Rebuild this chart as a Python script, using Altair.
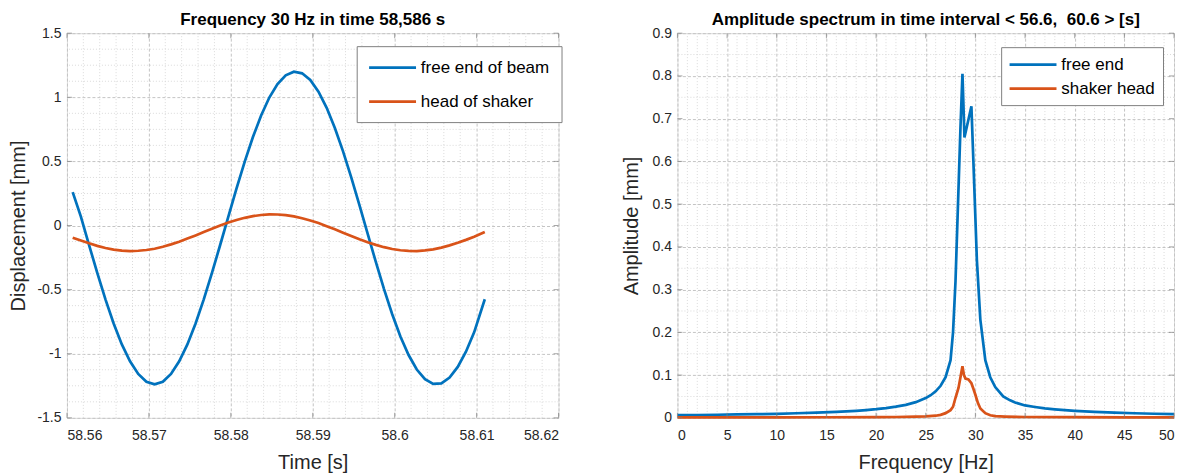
import altair as alt
import pandas as pd

# ---------------- data ----------------
time_s = [58.5607, 58.5617, 58.5627, 58.5637, 58.5647, 58.5657, 58.5667, 58.5677, 58.5687, 58.5697,
          58.5707, 58.5717, 58.5727, 58.5737, 58.5747, 58.5757, 58.5767, 58.5777, 58.5787, 58.5797,
          58.5807, 58.5817, 58.5827, 58.5837, 58.5847, 58.5857, 58.5867, 58.5877, 58.5887, 58.5897,
          58.5907, 58.5917, 58.5927, 58.5937, 58.5947, 58.5957, 58.5967, 58.5977, 58.5987, 58.5997,
          58.6007, 58.6017, 58.6027, 58.6037, 58.6047, 58.6057, 58.6067, 58.6077, 58.6087, 58.6097,
          58.611]
free_end_of_beam = [0.26, 0.070, -0.152, -0.370, -0.576, -0.764, -0.927, -1.059, -1.158, -1.218,
                    -1.238, -1.218, -1.158, -1.059, -0.927, -0.764, -0.576, -0.370, -0.152, 0.070,
                    0.289, 0.498, 0.690, 0.858, 0.998, 1.103, 1.171, 1.199, 1.187, 1.135,
                    1.044, 0.918, 0.761, 0.578, 0.375, 0.159, -0.063, -0.284, -0.496, -0.692,
                    -0.865, -1.010, -1.123, -1.198, -1.235, -1.231, -1.186, -1.103, -0.984, -0.833,
                    -0.575]
head_of_shaker = [-0.095, -0.117, -0.139, -0.159, -0.175, -0.188, -0.196, -0.199, -0.197, -0.191,
                  -0.181, -0.166, -0.147, -0.126, -0.102, -0.077, -0.051, -0.025, 0.000, 0.023,
                  0.043, 0.060, 0.073, 0.082, 0.087, 0.086, 0.081, 0.071, 0.057, 0.039,
                  0.019, -0.005, -0.030, -0.056, -0.082, -0.107, -0.130, -0.151, -0.169, -0.183,
                  -0.193, -0.198, -0.199, -0.194, -0.186, -0.172, -0.155, -0.135, -0.112, -0.087,
                  -0.050]

freq_free = [0, 2, 4, 6, 8, 10, 12, 14, 16, 18, 19, 20, 21, 22, 23, 24, 25, 25.5, 26, 26.5,
             27, 27.5, 27.75, 28, 28.25, 28.5, 28.7, 28.9, 29.6, 29.8, 30.15, 30.5, 31, 31.5, 32,
             32.8, 33.5, 34, 35, 36, 37, 38, 40, 42, 44, 46, 48, 50]
amp_free = [0.0062, 0.0067, 0.0072, 0.0079, 0.0086, 0.0095, 0.0107, 0.0121, 0.0140, 0.0165,
            0.0182, 0.0202, 0.0228, 0.0261, 0.0305, 0.0367, 0.0462, 0.053, 0.062, 0.075,
            0.095, 0.135, 0.20, 0.32, 0.50, 0.68, 0.805, 0.656, 0.729, 0.60, 0.37, 0.23, 0.135,
            0.095, 0.072, 0.050, 0.041, 0.036, 0.029, 0.0254, 0.0222, 0.020, 0.0165, 0.0140,
            0.0121, 0.0107, 0.0096, 0.0087]
freq_shaker = [0, 5, 10, 15, 20, 22, 24, 25, 26, 26.5, 27, 27.5, 27.75, 28, 28.3, 28.5, 28.7,
               28.85, 29, 29.3, 29.6, 29.8, 30, 30.25, 30.5, 31, 31.5, 32, 33, 35, 40, 45, 50]
amp_shaker = [0.0012, 0.0012, 0.0013, 0.0014, 0.0017, 0.0020, 0.0028, 0.0035, 0.005, 0.007,
              0.011, 0.018, 0.026, 0.047, 0.070, 0.095, 0.121, 0.100, 0.092, 0.090, 0.081,
              0.068, 0.054, 0.035, 0.022, 0.011, 0.006, 0.004, 0.003, 0.002, 0.0015, 0.0012,
              0.0012]

left_names = ["free end of beam", "head of shaker"]
right_names = ["free end", "shaker head"]
left_x_ticks = [58.56, 58.57, 58.58, 58.59, 58.6, 58.61, 58.62]
left_y_ticks = [-1.5, -1, -0.5, 0, 0.5, 1, 1.5]
right_x_ticks = [0, 5, 10, 15, 20, 25, 30, 35, 40, 45, 50]
right_y_ticks = [0, 0.1, 0.2, 0.3, 0.4, 0.5, 0.6, 0.7, 0.8, 0.9]
left_x_minor = [round(58.56 + 0.002 * i, 3) for i in range(31) if i % 5]
left_y_minor = [round(-1.5 + 0.125 * i, 3) for i in range(25) if i % 4]
right_x_minor = [i for i in range(51) if i % 5]
right_y_minor = [round(0.05 + 0.1 * i, 2) for i in range(9)]

# ---------------- style ----------------
FONT = "Liberation Sans"
TXT = "#262626"
BOX = "#808080"
GRID_MAJOR = "#c4c4c4"
GRID_MINOR = "#dadada"
BLUE = "#0072BD"
ORANGE = "#D95319"


def panel(df, xdom, ydom, xmaj, ymaj, xmin, ymin, xtitle, ytitle, title, names,
          w, h, yext, ytp, lx, ly, lfont, lpad, lrow, loff):
    xs = alt.Scale(domain=xdom, nice=False, zero=False)
    ys = alt.Scale(domain=ydom, nice=False, zero=False)

    common_axis = dict(grid=True, gridColor=GRID_MAJOR, gridDash=[3, 2], ticks=False,
                       domain=False, labelExpr="'' + datum.value", labelFont=FONT,
                       labelFontSize=14, labelColor=TXT, titleFont=FONT, titleFontSize=20,
                       titleFontWeight="normal", titleColor=TXT)
    xax = alt.Axis(values=xmaj, title=xtitle, labelPadding=11, titlePadding=10,
                   minExtent=25, maxExtent=25, **common_axis)
    yax = alt.Axis(values=ymaj, title=ytitle, labelPadding=6, titlePadding=ytp,
                   minExtent=yext, maxExtent=yext, **common_axis)

    minor_x = alt.Chart(pd.DataFrame({"v": xmin})).mark_rule(
        color=GRID_MINOR, strokeDash=[1, 2], strokeWidth=1
    ).encode(x=alt.X("v:Q", scale=xs, axis=xax))
    minor_y = alt.Chart(pd.DataFrame({"v": ymin})).mark_rule(
        color=GRID_MINOR, strokeDash=[1, 2], strokeWidth=1
    ).encode(y=alt.Y("v:Q", scale=ys, axis=yax))

    lines = alt.Chart(df).mark_line(strokeWidth=2.7).encode(
        x=alt.X("x:Q", scale=xs, axis=xax),
        y=alt.Y("y:Q", scale=ys, axis=yax),
        color=alt.Color("series:N", sort=names,
                        scale=alt.Scale(domain=names, range=[BLUE, ORANGE]),
                        legend=alt.Legend(orient="none", legendX=lx, legendY=ly, title=None,
                                          fillColor="white", strokeColor=BOX, padding=lpad,
                                          symbolType="M-3,0H3", symbolSize=245,
                                          symbolStrokeWidth=2.7, symbolOffset=14.4,
                                          labelOffset=loff, labelFont=FONT,
                                          labelFontSize=lfont, labelColor="#000",
                                          rowPadding=lrow)),
        order="x:Q",
    )

    tk = dict(color=BOX, thickness=1, size=5)
    xt = pd.DataFrame({"v": xmaj})
    yt = pd.DataFrame({"v": ymaj})
    t_bottom = alt.Chart(xt).mark_tick(orient="vertical", yOffset=-2.5, **tk).encode(
        x=alt.X("v:Q", scale=xs, axis=xax),
        y=alt.YDatum(datum=ydom[0], type="quantitative", scale=ys, axis=yax))
    t_top = alt.Chart(xt).mark_tick(orient="vertical", yOffset=2.5, **tk).encode(
        x=alt.X("v:Q", scale=xs, axis=xax),
        y=alt.YDatum(datum=ydom[1], type="quantitative", scale=ys, axis=yax))
    t_left = alt.Chart(yt).mark_tick(orient="horizontal", xOffset=2.5, **tk).encode(
        y=alt.Y("v:Q", scale=ys, axis=yax),
        x=alt.XDatum(datum=xdom[0], type="quantitative", scale=xs, axis=xax))
    t_right = alt.Chart(yt).mark_tick(orient="horizontal", xOffset=-2.5, **tk).encode(
        y=alt.Y("v:Q", scale=ys, axis=yax),
        x=alt.XDatum(datum=xdom[1], type="quantitative", scale=xs, axis=xax))

    return alt.layer(minor_x, minor_y, lines, t_bottom, t_top, t_left, t_right).properties(
        width=w, height=h,
        title=alt.Title(title, font=FONT, fontSize=17, fontWeight="bold", color="#000",
                        anchor="middle", frame="group", offset=-3),
    )


df_left = pd.DataFrame({
    "x": time_s + time_s,
    "y": free_end_of_beam + head_of_shaker,
    "series": [left_names[0]] * len(time_s) + [left_names[1]] * len(time_s),
})
df_right = pd.DataFrame({
    "x": freq_free + freq_shaker,
    "y": amp_free + amp_shaker,
    "series": [right_names[0]] * len(freq_free) + [right_names[1]] * len(freq_shaker),
})

left = panel(df_left, [58.56, 58.62], [-1.5, 1.5], left_x_ticks, left_y_ticks,
             left_x_minor, left_y_minor, "Time [s]", "Displacement [mm]",
             "Frequency 30 Hz in time 58,586 s", left_names,
             492, 385, 30, 8, 290, 13, 17, 12, 16, 18.8)
right = panel(df_right, [0, 50], [0, 0.9], right_x_ticks, right_y_ticks,
              right_x_minor, right_y_minor, "Frequency [Hz]", "Amplitude [mm]",
              "Amplitude spectrum in time interval < 56.6,\u00a0 60.6 > [s]", right_names,
              497, 385, 27, 9, 324, 14, 17, 8, 6, 18.8)

chart = alt.hconcat(left, right, spacing=119, bounds="flush").resolve_scale(
    x="independent", y="independent", color="independent"
).properties(
    padding={"left": 0, "top": 2, "right": 0, "bottom": 0}
).configure_view(stroke=BOX, strokeWidth=1).configure(background="white")

chart.save("out.html", embed_options={"renderer": "svg", "actions": False})
